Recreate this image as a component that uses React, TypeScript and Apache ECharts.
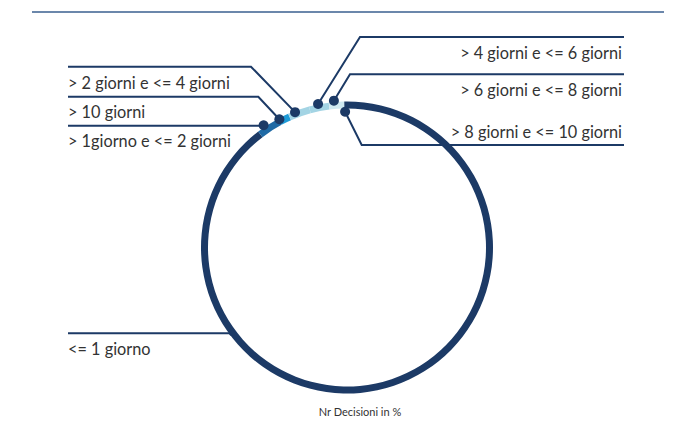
import React, { useEffect, useRef } from "react";
import * as echarts from "echarts";

// ---- data ----
const categories = [
  "<= 1 giorno",
  "> 1giorno e <= 2 giorni",
  "> 10 giorni",
  "> 2 giorni e <= 4 giorni",
  "> 4 giorni e <= 6 giorni",
  "> 6 giorni e <= 8 giorni",
  "> 8 giorni e <= 10 giorni",
];
const values = [89.6, 2.6, 1.2, 2.4, 2.2, 1.7, 0.3];
const axisTitle = "Nr Decisioni in %";

// ---- styles / layout ----
const sliceColors = ["#1c3a66", "#1f6aa5", "#1e9bd7", "#a3d4e4", "#a3d4e4", "#cfe9f1", "#1c3a66"];
const NAVY = "#1c3a66";
const CX = 347;
const CY = 247.5;
const R_IN = 139;
const R_OUT = 146;
const POLAR_R = 170;
const LEFT_X = 68;
const RIGHT_X = 624;

type LL = { side: "left" | "right"; angle: number; r: number; lineY: number; elbowX: number; dot: number; textDy: number };
const labelLayouts: LL[] = [
  { side: "left", angle: 233.3, r: 143.5, lineY: 333.3, elbowX: 231.7, dot: 6, textDy: 15.5 },
  { side: "left", angle: 325.7, r: 148, lineY: 125.7, elbowX: 263, dot: 10, textDy: 15 },
  { side: "left", angle: 332.2, r: 145, lineY: 96.7, elbowX: 258.3, dot: 10, textDy: 15 },
  { side: "left", angle: 339, r: 145, lineY: 66.7, elbowX: 251, dot: 10, textDy: 15.5 },
  { side: "right", angle: 348.6, r: 146.4, lineY: 37, elbowX: 360, dot: 10, textDy: 15 },
  { side: "right", angle: 354.9, r: 147.4, lineY: 74.3, elbowX: 350, dot: 10, textDy: 15 },
  { side: "right", angle: 359.2, r: 135.8, lineY: 145, elbowX: 361.7, dot: 10, textDy: -13.5 },
];

function anchor(l: LL): [number, number] {
  const a = (l.angle * Math.PI) / 180;
  return [CX + l.r * Math.sin(a), CY - l.r * Math.cos(a)];
}

export default function App() {
  const ref = useRef<HTMLDivElement>(null);
  useEffect(() => {
    if (!ref.current) return;
    const chart = echarts.init(ref.current, null, { renderer: "svg" });
    chart.setOption({
      animation: false,
      backgroundColor: "#ffffff",
      textStyle: { fontFamily: "Lato" },
      title: {
        text: axisTitle,
        left: 355,
        top: 401,
        textAlign: "center",
        textStyle: { fontFamily: "Lato", fontSize: 11, fontWeight: "normal", color: "#333333" },
      },
      graphic: [
        {
          type: "line",
          shape: { x1: 32, y1: 12, x2: 664, y2: 12 },
          style: { stroke: "#3a5f8f", lineWidth: 1.5 },
        },
      ],
      polar: { center: [CX, CY], radius: POLAR_R },
      angleAxis: { type: "value", min: 0, max: 360, startAngle: 90, clockwise: true, show: false },
      radiusAxis: { type: "value", min: 0, max: POLAR_R, show: false },
      series: [
        {
          type: "pie",
          center: [CX, CY],
          radius: [R_IN, R_OUT],
          startAngle: 90,
          clockwise: true,
          avoidLabelOverlap: false,
          emphasis: { disabled: true },
          silent: true,
          z: 2,
          data: categories.map((c, i) => ({
            name: c,
            value: values[i],
            itemStyle: { color: sliceColors[i], borderWidth: 0 },
          })),
          label: {
            show: true,
            position: "outside",
            formatter: "{b}",
            color: "#333333",
            fontFamily: "Lato",
            fontSize: 16.3,
          },
          labelLine: { show: true, smooth: false, lineStyle: { color: NAVY, width: 2 } },
          labelLayout: (params: any) => {
            const l = labelLayouts[params.dataIndex];
            const [ax, ay] = anchor(l);
            const endX = l.side === "left" ? LEFT_X : RIGHT_X;
            return {
              x: l.side === "left" ? LEFT_X : RIGHT_X - 2,
              y: l.lineY + l.textDy,
              align: l.side === "left" ? "left" : "right",
              verticalAlign: "middle",
              labelLinePoints: [
                [ax, ay],
                [l.elbowX, l.lineY],
                [endX, l.lineY],
              ],
            };
          },
        },
        {
          type: "scatter",
          coordinateSystem: "polar",
          silent: true,
          clip: false,
          z: 5,
          data: labelLayouts.map((l) => ({
            value: [l.r, l.angle],
            symbolSize: l.dot,
          })),
          itemStyle: { color: NAVY, opacity: 1 },
        },
      ],
    });
    return () => chart.dispose();
  }, []);
  return (
    <div
      ref={ref}
      style={{ position: "fixed", left: 0, top: 0, width: 694, height: 434, background: "#fff" }}
    />
  );
}
